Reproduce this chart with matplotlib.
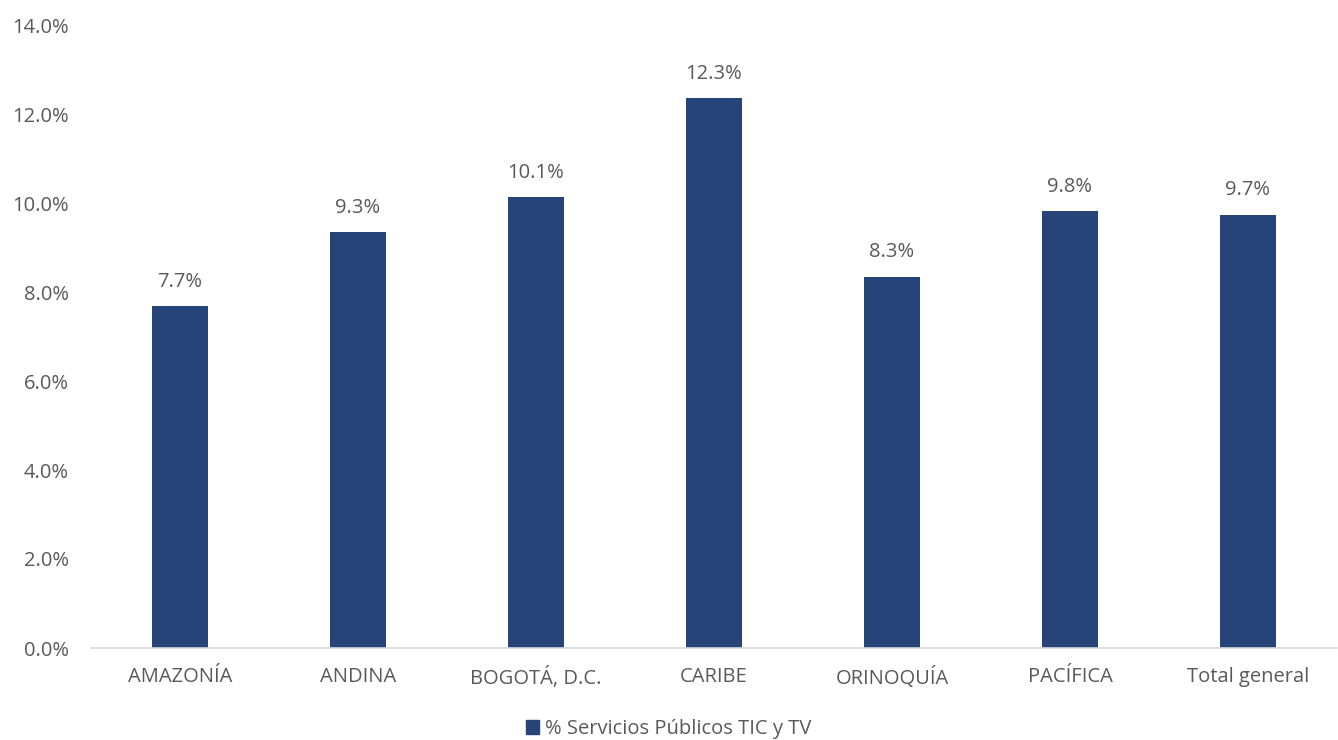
import matplotlib
matplotlib.use("Agg")
import matplotlib.pyplot as plt
from matplotlib.ticker import PercentFormatter
from matplotlib.patches import Patch

regions = ["AMAZONÍA", "ANDINA", "BOGOTÁ, D.C.", "CARIBE", "ORINOQUÍA", "PACÍFICA", "Total general"]
values = [7.68, 9.34, 10.13, 12.35, 8.34, 9.81, 9.74]
series_name = "% Servicios Públicos TIC y TV"

bar_color = "#264478"
text_color = "#595959"

plt.rcParams["font.family"] = ["Open Sans", "DejaVu Sans"]

fig = plt.figure(figsize=(13.38, 7.40), dpi=100)
ax = fig.add_axes([91 / 1338, 1 - 648 / 740, 1246 / 1338, 623 / 740])

x = range(len(regions))
bars = ax.bar(x, values, width=0.31, color=bar_color)

for xi, v in zip(x, values):
    ax.text(xi, v + 0.33, f"{v:.1f}%", ha="center", va="bottom", fontsize=14.5, color=text_color)

ax.set_xlim(-0.5, len(regions) - 0.5)
ax.set_ylim(0, 14)
ax.set_yticks([0, 2, 4, 6, 8, 10, 12, 14])
ax.yaxis.set_major_formatter(PercentFormatter(decimals=1))
ax.set_xticks(list(x))
ax.set_xticklabels(regions)

for s in ["top", "right", "left"]:
    ax.spines[s].set_visible(False)
ax.spines["bottom"].set_color("#D9D9D9")
ax.spines["bottom"].set_linewidth(1.2)
ax.tick_params(axis="both", length=0, labelsize=14.5, labelcolor=text_color)
ax.tick_params(axis="y", pad=16)
ax.tick_params(axis="x", pad=14)

fig.legend(handles=[Patch(color=bar_color, label=series_name)], loc="center",
           bbox_to_anchor=(0.5, 1 - 729 / 740), frameon=False, fontsize=14.5,
           handlelength=0.65, handleheight=0.65, handletextpad=0.3, labelcolor=text_color)

fig.savefig("out.png", dpi=100)
